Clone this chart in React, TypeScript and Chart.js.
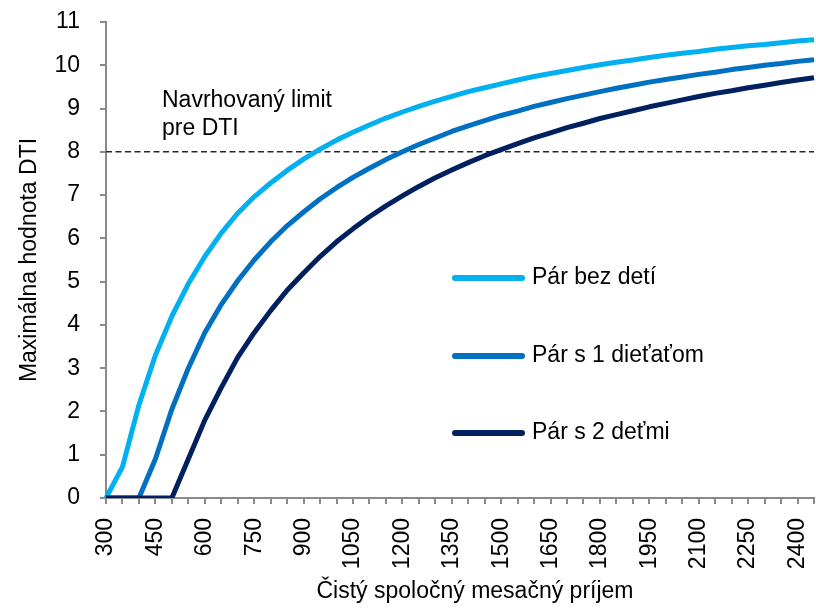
import React, { useEffect, useRef } from 'react';
import { Chart, registerables } from 'chart.js';

Chart.register(...registerables);

// Net joint monthly income (EUR)
const incomes = [
  300, 350, 400, 450, 500, 550, 600, 650, 700, 750, 800, 850, 900, 950, 1000,
  1050, 1100, 1150, 1200, 1250, 1300, 1350, 1400, 1450, 1500, 1550, 1600, 1650,
  1700, 1750, 1800, 1850, 1900, 1950, 2000, 2050, 2100, 2150, 2200, 2250, 2300,
  2350, 2400, 2450,
];

const coupleNoChildren = [
  0, 0.72, 2.15, 3.3, 4.2, 4.95, 5.58, 6.12, 6.58, 6.96, 7.28, 7.57, 7.83, 8.06,
  8.27, 8.45, 8.62, 8.78, 8.92, 9.05, 9.17, 9.28, 9.39, 9.48, 9.57, 9.66, 9.74,
  9.81, 9.88, 9.95, 10.01, 10.07, 10.12, 10.18, 10.23, 10.28, 10.32, 10.37, 10.41,
  10.45, 10.48, 10.52, 10.56, 10.59,
];

const coupleOneChild = [
  0, 0, 0, 0.9, 2.05, 3.0, 3.82, 4.47, 5.02, 5.5, 5.92, 6.29, 6.61, 6.91, 7.17,
  7.41, 7.62, 7.82, 8.0, 8.17, 8.32, 8.47, 8.6, 8.72, 8.84, 8.94, 9.05, 9.14, 9.23,
  9.31, 9.39, 9.47, 9.54, 9.61, 9.67, 9.73, 9.79, 9.84, 9.9, 9.95, 10.0, 10.04,
  10.09, 10.13,
];

const coupleTwoChildren = [
  0, 0, 0, 0, 0, 0.9, 1.8, 2.55, 3.25, 3.82, 4.33, 4.8, 5.2, 5.58, 5.92, 6.22, 6.5,
  6.75, 6.98, 7.2, 7.4, 7.58, 7.75, 7.91, 8.05, 8.19, 8.32, 8.44, 8.56, 8.66, 8.77,
  8.86, 8.95, 9.04, 9.12, 9.2, 9.28, 9.35, 9.41, 9.48, 9.54, 9.6, 9.66, 9.71,
];

const dtiLimit = 8;
const tickLabelEvery = 150;
const yTicks = [0, 1, 2, 3, 4, 5, 6, 7, 8, 9, 10, 11];

const seriesLabels = ['Pár bez detí', 'Pár s 1 dieťaťom', 'Pár s 2 deťmi'];
const seriesColors = ['#00B0F0', '#0070C0', '#002060'];
const limitText = ['Navrhovaný limit', 'pre DTI'];
const xTitle = 'Čistý spoločný mesačný príjem';
const yTitle = 'Maximálna hodnota DTI';

const FONT = '"Liberation Sans", Arial, sans-serif';
const AXIS_GRAY = '#8a8a8a';

const overlayPlugin = {
  id: 'overlay',
  afterDatasetsDraw(chart: any) {
    const { ctx, chartArea, scales } = chart;
    const yLimit = scales.y.getPixelForValue(dtiLimit);
    ctx.save();
    ctx.font = `23px ${FONT}`;
    ctx.fillStyle = '#000';
    ctx.textAlign = 'left';
    ctx.textBaseline = 'alphabetic';
    const tx = chartArea.left + 56;
    ctx.fillText(limitText[0], tx, yLimit - 45);
    ctx.fillText(limitText[1], tx, yLimit - 17);

    // legend
    const lx0 = chartArea.left + 349;
    const lx1 = chartArea.left + 416;
    const ly = [278, 356, 433];
    ctx.lineCap = 'round';
    ctx.lineWidth = 6;
    ctx.textBaseline = 'middle';
    seriesLabels.forEach((lab, i) => {
      ctx.strokeStyle = seriesColors[i];
      ctx.beginPath();
      ctx.moveTo(lx0, ly[i]);
      ctx.lineTo(lx1, ly[i]);
      ctx.stroke();
      ctx.fillText(lab, lx1 + 10, ly[i]);
    });

    // x axis title
    ctx.textAlign = 'center';
    ctx.textBaseline = 'middle';
    ctx.fillText(xTitle, chartArea.left + 369, 592);
    ctx.restore();
  },
};

export default function App() {
  const canvasRef = useRef<HTMLCanvasElement | null>(null);

  useEffect(() => {
    document.body.style.margin = '0';
    const canvas = canvasRef.current;
    if (!canvas) return;
    Chart.defaults.font.family = FONT;
    Chart.defaults.color = '#000';

    const seriesData = [coupleNoChildren, coupleOneChild, coupleTwoChildren];
    const datasets: any[] = seriesData.map((d, i) => ({
      label: seriesLabels[i],
      data: d,
      borderColor: seriesColors[i],
      backgroundColor: seriesColors[i],
      borderWidth: 5,
      pointRadius: 0,
      tension: 0,
      borderJoinStyle: 'round',
      fill: false,
      order: 3 - i,
    }));
    datasets.push({
      label: 'limit',
      data: incomes.map(() => dtiLimit),
      borderColor: '#262626',
      borderWidth: 1.5,
      borderDash: [6, 3.5],
      pointRadius: 0,
      fill: false,
      order: 10,
    });

    const chart = new Chart(canvas, {
      type: 'line',
      data: { labels: incomes.map(String), datasets },
      options: {
        animation: false,
        responsive: false,
        maintainAspectRatio: false,
        layout: { padding: { top: 22, right: 2, left: 0, bottom: 0 } },
        plugins: {
          legend: { display: false },
          tooltip: { enabled: false },
        },
        scales: {
          x: {
            type: 'category',
            offset: false,
            grid: {
              drawOnChartArea: false,
              drawTicks: true,
              tickLength: 6,
              color: AXIS_GRAY,
              lineWidth: 2,
              offset: false,
            },
            border: { display: true, color: AXIS_GRAY, width: 2 },
            ticks: {
              autoSkip: false,
              minRotation: 90,
              maxRotation: 90,
              padding: 14,
              color: '#000',
              font: { size: 23, family: FONT },
              callback: (_v: any, idx: number) =>
                (incomes[idx] - incomes[0]) % tickLabelEvery === 0 ? String(incomes[idx]) : '',
            },
            title: { display: false },
            afterFit: (scale: any) => {
              scale.height = 110;
              scale.paddingLeft = 0;
              scale.paddingRight = 0;
            },
          },
          y: {
            type: 'linear',
            min: 0,
            max: 11,
            grid: {
              drawOnChartArea: false,
              drawTicks: true,
              tickLength: 6,
              color: AXIS_GRAY,
              lineWidth: 2,
            },
            border: { display: true, color: AXIS_GRAY, width: 2 },
            afterBuildTicks: (scale: any) => {
              scale.ticks = yTicks.map((v) => ({ value: v }));
            },
            ticks: {
              padding: 20,
              color: '#000',
              font: { size: 23, family: FONT },
            },
            title: {
              display: true,
              text: yTitle,
              color: '#000',
              font: { size: 23, family: FONT },
              padding: { top: 16, bottom: 4 },
            },
            afterFit: (scale: any) => {
              scale.width = 106;
              scale.paddingTop = 0;
              scale.paddingBottom = 0;
            },
          },
        },
      },
      plugins: [overlayPlugin],
    });

    return () => chart.destroy();
  }, []);

  return (
    <div style={{ position: 'absolute', left: 0, top: 0, width: 816, height: 608, background: '#fff' }}>
      <canvas ref={canvasRef} width={816} height={608} style={{ display: 'block' }} />
    </div>
  );
}
